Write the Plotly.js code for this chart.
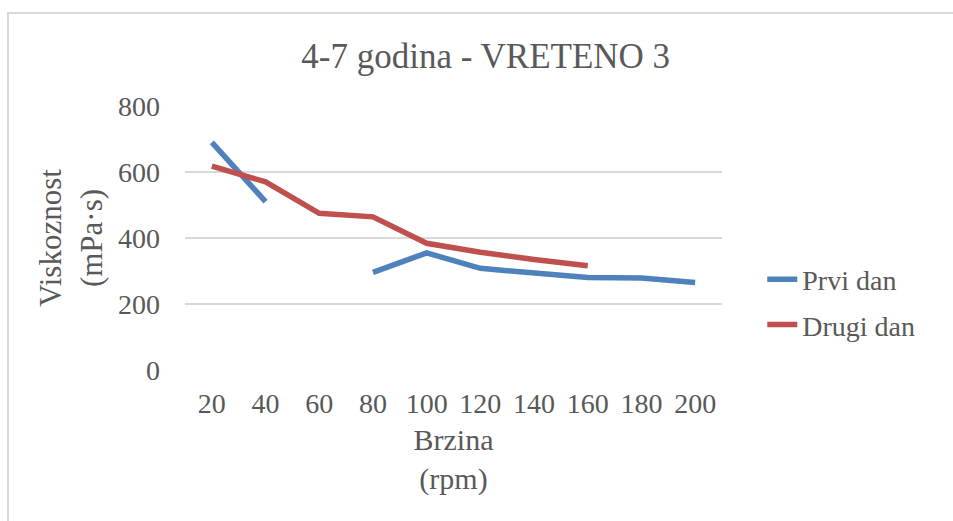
<!DOCTYPE html>
<html>
<head>
<meta charset="utf-8">
<script src="https://cdn.plot.ly/plotly-3.0.1.min.js"></script>
<style>
  html, body { margin: 0; padding: 0; background: #fff; }
  #wrap { position: relative; width: 953px; height: 521px; overflow: hidden; }
  #chart { position: absolute; left: 0; top: 0; width: 953px; height: 521px; }
  #frame { position: absolute; left: 7px; top: 12px; width: 1000px; height: 600px;
           border-left: 2px solid #d9d9d9; border-top: 2px solid #d9d9d9; pointer-events: none; }
</style>
</head>
<body>
<div id="wrap">
  <div id="frame"></div>
  <div id="chart"></div>
</div>
<script>
// Data
const categories = ["20", "40", "60", "80", "100", "120", "140", "160", "180", "200"];
const prviDan  = [690, 510, null, 296, 355, 308, 293, 280, 279, 265];
const drugiDan = [618, 570, 475, 464, 384, 357, 335, 316, null, null];
const seriesNames = ["Prvi dan", "Drugi dan"];
const yTicks = [0, 200, 400, 600, 800];
const chartTitle = "4-7 godina - VRETENO 3";
const xTitle = "Brzina<br>(rpm)";
const yTitle = "Viskoznost<br>(mPa·s)";

const FONT = "Liberation Serif, Times New Roman, serif";
const TXT = "#595959";

const traces = [
  { x: categories, y: prviDan, name: seriesNames[0], legendgroup: "a", type: "scatter", mode: "lines",
    connectgaps: false, line: { color: "#4f81bd", width: 5.5 } },
  { x: categories, y: drugiDan, name: seriesNames[1], legendgroup: "b", type: "scatter", mode: "lines",
    connectgaps: false, line: { color: "#c0504d", width: 5.5 } }
];

const layout = {
  width: 953, height: 521,
  margin: { l: 185, r: 231, t: 106, b: 151 },
  paper_bgcolor: "rgba(0,0,0,0)",
  plot_bgcolor: "rgba(0,0,0,0)",
  font: { family: FONT, color: TXT, size: 28 },
  title: { text: chartTitle, font: { family: FONT, size: 35, color: TXT },
           x: 0.56, xanchor: "center", xref: "paper", y: 1 - 56/521, yref: "container", yanchor: "middle" },
  xaxis: {
    type: "category", range: [-0.5, 9.5],
    showgrid: false, zeroline: false, showline: false,
    ticks: "", ticklabelstandoff: 14,
    tickfont: { family: FONT, size: 28, color: TXT },
    title: { text: xTitle, font: { family: FONT, size: 30, color: TXT }, standoff: 10 }
  },
  yaxis: {
    range: [0, 800], tickvals: yTicks,
    showgrid: true, gridcolor: "#d9d9d9", gridwidth: 2,
    zeroline: false, showline: false, ticks: "",
    ticklabelstandoff: 24,
    tickfont: { family: FONT, size: 28, color: TXT },
    title: { text: yTitle, font: { family: FONT, size: 31, color: TXT }, standoff: 6 }
  },
  showlegend: true,
  legend: { x: 1.075, xanchor: "left", y: 0.2576, yanchor: "middle",
            traceorder: "grouped", tracegroupgap: 6,
            font: { family: FONT, size: 28, color: TXT },
            bgcolor: "rgba(0,0,0,0)" }
};

Plotly.newPlot("chart", traces, layout, { displayModeBar: false, staticPlot: true });
</script>
</body>
</html>
